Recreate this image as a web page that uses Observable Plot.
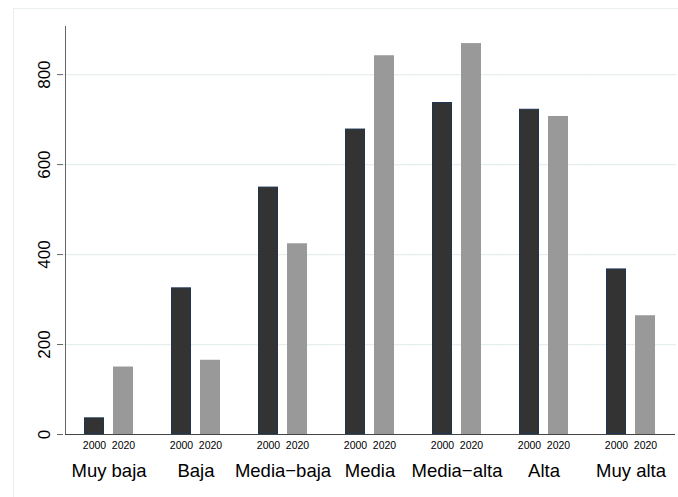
<!DOCTYPE html>
<html>
<head>
<meta charset="utf-8">
<script src="https://cdn.jsdelivr.net/npm/d3@7"></script>
<script src="https://cdn.jsdelivr.net/npm/@observablehq/plot@0.6"></script>
<style>
  body { margin: 0; background: #fff; }
  #chart { position: relative; width: 678px; height: 497px; overflow: hidden; background: #fff; }
  #chart svg { display: block; }
  /* light outline of the graph region */
  #chart .region {
    position: absolute; left: 13px; top: 8px; width: 720px; height: 540px;
    border: 1px solid #eaf0f0; pointer-events: none;
  }
</style>
</head>
<body>
<div id="chart"><div class="region"></div></div>
<script>
const categories = ["Muy baja", "Baja", "Media−baja", "Media", "Media−alta", "Alta", "Muy alta"];
const years = ["2000", "2020"];
const values2000 = [37, 326, 550, 679, 738, 723, 368];
const values2020 = [150, 165, 424, 842, 869, 707, 264];
const yTicks = [0, 200, 400, 600, 800];

const rows = categories.flatMap((category, i) => [
  {category, year: years[0], value: values2000[i]},
  {category, year: years[1], value: values2020[i]}
]);

const chart = Plot.plot({
  width: 678,
  height: 497,
  marginLeft: 63,
  marginRight: 2,
  marginTop: 26,
  marginBottom: 63,
  style: {fontFamily: "'Liberation Sans', Arial, Helvetica, sans-serif", color: "#000", background: "transparent"},
  fx: {domain: categories, paddingInner: 0, paddingOuter: 0.02, label: null},
  x: {domain: years, paddingInner: 0.31, paddingOuter: 0.65, label: null},
  y: {domain: [0, 907], label: null},
  marks: [
    // gridlines, widened a little so neighbouring panels join up to the axes
    Plot.ruleY(yTicks.filter((d) => d > 0), {stroke: "#e6eeef", strokeWidth: 1.3, insetLeft: -2, insetRight: -2}),
    Plot.barY(rows.filter((d) => d.year === years[0]), {
      fx: "category", x: "year", y: "value",
      fill: "#333333", stroke: "#1e3550", strokeWidth: 1, inset: 0.5
    }),
    Plot.barY(rows.filter((d) => d.year === years[1]), {
      fx: "category", x: "year", y: "value", fill: "#999999"
    }),
    Plot.frame({anchor: "left", facet: "super", stroke: "#666666"}),
    Plot.frame({anchor: "bottom", facet: "super", stroke: "#444444"}),
    Plot.axisY({
      ticks: yTicks, tickSize: 6, tickPadding: 8, tickRotate: -90, dx: -2,
      fontSize: 17, stroke: "#666666", fill: "#000", label: null
    }),
    Plot.axisX({anchor: "bottom", tickSize: 0, tickPadding: 7, fontSize: 10.5, fill: "#000", label: null}),
    Plot.axisFx({anchor: "bottom", tickSize: 0, tickPadding: 29.5, fontSize: 18.5, fill: "#000", label: null})
  ]
});

document.getElementById("chart").prepend(chart);
</script>
</body>
</html>
